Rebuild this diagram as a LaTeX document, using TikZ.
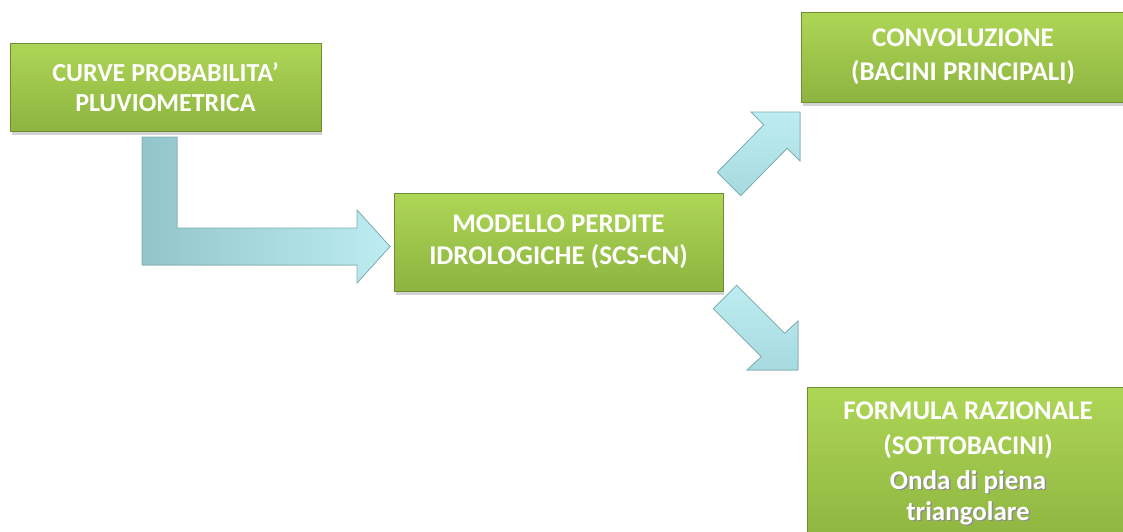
\documentclass[tikz,border=0pt]{standalone}
\usepackage{fontspec}
\setmainfont{Carlito}
\definecolor{gtop}{HTML}{AED656}
\definecolor{gbot}{HTML}{8DB43F}
\definecolor{gedge}{HTML}{6F8C2E}
\definecolor{adark}{HTML}{92C5CA}
\definecolor{alight}{HTML}{BDEDF1}
\definecolor{amid}{HTML}{A6DADF}
\definecolor{aedge}{HTML}{7FAFB5}
\tikzset{
  box/.style={rectangle, inner sep=0pt, top color=gtop, bottom color=gbot,
    draw=gedge, line width=0.8pt, text=white, font=\bfseries\fontsize{27}{30}\selectfont,
    align=center},
  shadowbox/.style={fill=black!35, opacity=0.5},
  blockarrow/.style={draw=aedge, line width=0.8pt, line join=miter},
  lbl/.style={text=white, font=\bfseries\fontsize{27}{35}\selectfont, align=center},
  lblshadow/.style={text=black!45, font=\bfseries\fontsize{27}{31}\selectfont, align=center}
}
\begin{document}
\begin{tikzpicture}[x=1pt,y=-1pt]
\useasboundingbox (0,0) rectangle (1123,531);
\clip (0,0) rectangle (1123,531);
% shadows
\fill[shadowbox] (12,131) rectangle (322,135);
\fill[shadowbox] (396,291) rectangle (724,295);
\fill[shadowbox] (803,102) rectangle (1125,106);
% boxes
\node[box, minimum width=311pt, minimum height=88pt, font=\bfseries\fontsize{26}{30}\selectfont] (curve) at (165.5,87)
  {CURVE PROBABILITA’\\PLUVIOMETRICA};
\node[box, minimum width=329pt, minimum height=98pt, font=\bfseries\fontsize{27}{32}\selectfont] (modello) at (558.5,242)
  {MODELLO PERDITE\\IDROLOGICHE (SCS-CN)};
\node[box, minimum width=324pt, minimum height=90pt, font=\bfseries\fontsize{27}{36}\selectfont] (conv) at (963,57)
  {\raisebox{-2pt}{CONVOLUZIONE}\\(BACINI PRINCIPALI)};
\node[box, minimum width=322pt, minimum height=158pt] (formula) at (968,466) {};
\node[lbl, anchor=north] (f1) at (968,398) {FORMULA RAZIONALE\\(SOTTOBACINI)};
\node[lblshadow, anchor=north] (f2s) at (969.5,465.5) {\strut Onda di piena\\triangolare};
\node[lbl, lblshadow, text=white, anchor=north] (f2) at (968,464) {\strut Onda di piena\\triangolare};
% L-shaped arrow
\filldraw[blockarrow, left color=adark, right color=alight]
  (142,137) -- (177,137) -- (177,228) -- (357,228) -- (357,210) -- (390,246.5)
  -- (357,283) -- (357,265) -- (142,265) -- cycle;
% up-right arrow
\filldraw[blockarrow, shading angle=45, top color=alight, bottom color=amid]
  (717.3,172.3) -- (763.8,124.8) -- (751,112) -- (800,112) -- (800,161)
  -- (787.2,148.2) -- (740.7,195.7) -- cycle;
% down-right arrow
\filldraw[blockarrow, shading angle=-45, top color=alight, bottom color=amid]
  (736.7,285.3) -- (784.7,333.3) -- (798,321) -- (798,370) -- (747,370)
  -- (761.3,356.7) -- (713.3,308.7) -- cycle;
\end{tikzpicture}
\end{document}
